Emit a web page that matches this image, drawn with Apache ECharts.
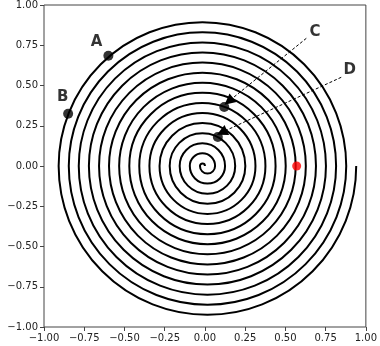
<!DOCTYPE html>
<html>
<head>
<meta charset="utf-8">
<script src="https://cdn.jsdelivr.net/npm/echarts@6/dist/echarts.min.js"></script>
<style>
  html, body { margin: 0; padding: 0; background: #fff; }
  #chart { width: 380px; height: 346px; }
</style>
</head>
<body>
<div id="chart"></div>
<script>
// where the spiral crosses y = 0, inner to outer
var crossX = [0, -0.031, 0.063, -0.094, 0.125, -0.157, 0.188, -0.219, 0.251, -0.282,
  0.314, -0.345, 0.376, -0.408, 0.439, -0.470, 0.502, -0.533, 0.564, -0.596,
  0.627, -0.658, 0.690, -0.721, 0.752, -0.784, 0.815, -0.846, 0.878, -0.909, 0.940];

var pointNames = ["A", "B", "C", "D"];
var pointX = [-0.60, -0.85, 0.12, 0.08];
var pointY = [0.685, 0.325, 0.366, 0.18];

var redPoint = [0.57, 0.0];

// label text positions
var labelX = [-0.674, -0.884, 0.684, 0.90];
var labelY = [0.768, 0.427, 0.832, 0.594];

// arrows C and D: from text to point
var arrowFrom = [[0.630, 0.793], [0.847, 0.551]];
var arrowTo = [[0.148, 0.402], [0.105, 0.209]];

var ticks = [-1, -0.75, -0.5, -0.25, 0, 0.25, 0.5, 0.75, 1];

var halves = [];
for (var i = 0; i < crossX.length - 1; i++) {
  halves.push([crossX[i], crossX[i + 1]]);
}

var myChart = echarts.init(document.getElementById("chart"));

function fmt(v) {
  return v.toFixed(2).replace("-", "\u2212");
}

var axisCommon = {
  type: "value",
  min: ticks[0],
  max: ticks[ticks.length - 1],
  interval: 0.25,
  splitLine: { show: false },
  axisLine: { show: false, onZero: false },
  axisTick: { show: true, inside: false, length: 4, lineStyle: { color: "#444", width: 1 } },
  axisLabel: {
    formatter: fmt,
    fontFamily: "DejaVu Sans",
    fontSize: 10,
    color: "#222",
    margin: 6
  }
};

var points = [];
for (var j = 0; j < pointNames.length; j++) {
  points.push({ name: pointNames[j], value: [pointX[j], pointY[j]] });
}
var labels = [];
for (var k = 0; k < pointNames.length; k++) {
  labels.push({ name: pointNames[k], value: [labelX[k], labelY[k]] });
}
var arrows = [];
for (var m = 0; m < arrowFrom.length; m++) {
  arrows.push([{ coord: arrowFrom[m] }, { coord: arrowTo[m] }]);
}

var option = {
  animation: false,
  grid: {
    left: 44, right: 12, top: 5, bottom: 19,
    show: true, borderColor: "#444", borderWidth: 1, backgroundColor: "transparent"
  },
  xAxis: axisCommon,
  yAxis: axisCommon,
  series: [
    {
      type: "custom",
      data: halves,
      renderItem: function (params, api) {
        var a = api.value(0), b = api.value(1);
        var p1 = api.coord([a, 0]);
        var p2 = api.coord([b, 0]);
        var upper = b < a;
        return {
          type: "arc",
          shape: {
            cx: (p1[0] + p2[0]) / 2,
            cy: p1[1],
            r: Math.abs(p2[0] - p1[0]) / 2,
            startAngle: upper ? Math.PI : 0,
            endAngle: upper ? 2 * Math.PI : Math.PI,
            clockwise: true
          },
          style: { fill: "none", stroke: "#000", lineWidth: 2 }
        };
      }
    },
    {
      type: "scatter",
      data: points,
      symbolSize: 10,
      itemStyle: { color: "#000" },
      z: 5,
      markLine: {
        silent: true,
        symbol: ["none", "triangle"],
        symbolSize: 11,
        label: { show: false },
        lineStyle: { color: "#000", width: 1, type: [3, 2] },
        data: arrows
      }
    },
    {
      type: "scatter",
      data: [redPoint],
      symbolSize: 9,
      itemStyle: { color: "#ff0000" },
      z: 5
    },
    {
      type: "scatter",
      data: labels,
      symbolSize: 0,
      label: {
        show: true,
        position: "inside",
        formatter: "{b}",
        fontFamily: "DejaVu Sans",
        fontSize: 15,
        fontWeight: "bold",
        color: "#000"
      },
      z: 6
    }
  ]
};
myChart.setOption(option);
</script>
</body>
</html>
